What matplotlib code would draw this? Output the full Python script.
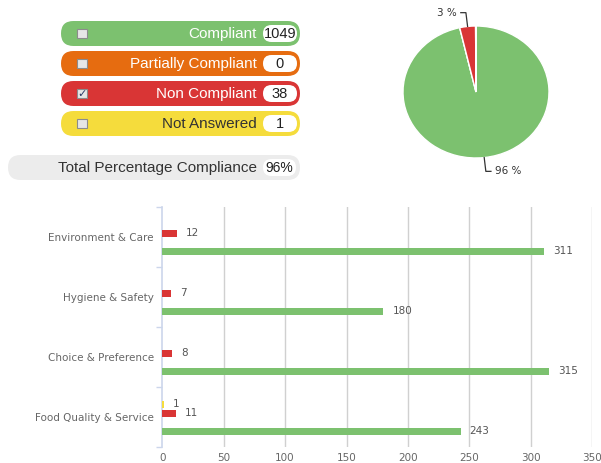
import numpy as np
import matplotlib
matplotlib.use("Agg")
import matplotlib.pyplot as plt
from matplotlib.patches import FancyBboxPatch, Rectangle

# data
CATEGORIES = ["Environment & Care", "Hygiene & Safety", "Choice & Preference", "Food Quality & Service"]
COMPLIANT = [311, 180, 315, 243]
PARTIAL = [0, 0, 0, 0]
NON_COMPLIANT = [12, 7, 8, 11]
NOT_ANSWERED = [0, 0, 0, 1]

LEGEND_LABELS = ["Compliant", "Partially Compliant", "Non Compliant", "Not Answered"]
LEGEND_COUNTS = [1049, 0, 38, 1]
LEGEND_CHECKED = [False, False, True, False]
TOTAL_LABEL = "Total Percentage Compliance"
TOTAL_PCT = 96
X_TICKS = [0, 50, 100, 150, 200, 250, 300, 350]

# colours
C_GREEN = "#7cc16f"
C_ORANGE = "#e66c10"
C_RED = "#d93535"
C_YELLOW = "#f5dc3c"
PILL_COLORS = [C_GREEN, C_ORANGE, C_RED, C_YELLOW]
PILL_TEXT = ["#ffffff", "#ffffff", "#ffffff", "#333333"]
BAR_COLORS = [C_YELLOW, C_RED, C_ORANGE, C_GREEN]

W, H = 601, 463
fig = plt.figure(figsize=(W / 100, H / 100), dpi=100)

# overlay in pixel coordinates for the legend pills
ax0 = fig.add_axes([0, 0, 1, 1])
ax0.set_xlim(0, W)
ax0.set_ylim(H, 0)
ax0.axis("off")

def pill(ax, x0, x1, yc, h, color, z=1):
    r = h / 2.0
    p = FancyBboxPatch((x0 + r, yc - h / 2), (x1 - x0) - 2 * r, h,
                       boxstyle="round,pad=0,rounding_size=%f" % r,
                       mutation_aspect=1, fc=color, ec="none", zorder=z)
    # pad the rounded ends
    p.set_boxstyle("round", pad=r, rounding_size=r)
    p.set_bounds(x0 + r, yc - h / 2 + r, (x1 - x0) - 2 * r, h - 2 * r)
    ax.add_patch(p)

font_pill = ["Liberation Sans", "DejaVu Sans"]
for i, (lab, cnt) in enumerate(zip(LEGEND_LABELS, LEGEND_COUNTS)):
    yc = 33.5 + 30 * i
    pill(ax0, 61, 300, yc, 25, PILL_COLORS[i])
    pill(ax0, 263, 297, yc, 17, "#ffffff", z=2)
    ax0.add_patch(Rectangle((77, yc - 4.5), 10, 9, fc="#e6e6e6", ec="#8c8c8c", lw=0.8, zorder=3))
    if LEGEND_CHECKED[i]:
        ax0.text(82, yc + 0.5, "\u2713", ha="center", va="center", fontsize=8,
                 color="#2b3a67", family="DejaVu Sans", zorder=4)
    ax0.text(257, yc + 0.5, lab, ha="right", va="center", fontsize=11,
             color=PILL_TEXT[i], family=font_pill, zorder=3)
    ax0.text(280, yc + 0.5, str(cnt), ha="center", va="center", fontsize=10.5,
             color="#222222", family=font_pill, zorder=3)

yc = 167.5
pill(ax0, 8, 300, yc, 25, "#ececec")
pill(ax0, 263, 296, yc, 17, "#ffffff", z=2)
ax0.text(257, yc + 0.5, TOTAL_LABEL, ha="right", va="center", fontsize=11,
         color="#333333", family=font_pill, zorder=3)
ax0.text(279.5, yc + 0.5, "%d%%" % TOTAL_PCT, ha="center", va="center", fontsize=10,
         color="#222222", family=font_pill, zorder=3)

# pie chart
pcx, pcy, rx, ry = 476, 92, 73, 66
axp = fig.add_axes([(pcx - rx) / W, 1 - (pcy + ry) / H, 2 * rx / W, 2 * ry / H])
wedges, _ = axp.pie(LEGEND_COUNTS, colors=PILL_COLORS, startangle=90, counterclock=False,
                    wedgeprops=dict(edgecolor="white", linewidth=1))
axp.set_aspect("auto")
axp.set_xlim(-1, 1)
axp.set_ylim(-1, 1)
axp.axis("off")
total = float(sum(LEGEND_COUNTS))
for w, v in zip(wedges, LEGEND_COUNTS):
    pct = v / total * 100
    if pct < 1:
        continue
    ang = np.deg2rad((w.theta1 + w.theta2) / 2.0)
    c, s = np.cos(ang), np.sin(ang)
    side = 1 if c >= 0 else -1
    x1, y1 = c * 1.0, s * 1.0
    x2, y2 = c * 1.2, s * 1.21
    x3 = x2 + side * 0.07
    axp.plot([x1, x2, x3], [y1, y2, y2], color="#333333", lw=0.9, clip_on=False)
    axp.text(x3 + side * 0.06, y2, "%d %%" % round(pct), ha="left" if side > 0 else "right",
             va="center", fontsize=7.5, color="#333333", family="DejaVu Sans")

# bar chart
axb = fig.add_axes([162.3 / W, 1 - 447 / H, 429.8 / W, 240 / H])
ypos = np.arange(len(CATEGORIES))
series = [NOT_ANSWERED, NON_COMPLIANT, PARTIAL, COMPLIANT]
offsets = [-0.21, -0.06, 0.09, 0.24]
bh = 0.117
for vals, off, col in zip(series, offsets, BAR_COLORS):
    bars = axb.barh(ypos + off, vals, height=bh, color=col, zorder=3)
    for b, v in zip(bars, vals):
        if v > 0:
            axb.annotate(str(v), (v, b.get_y() + bh / 2), xytext=(6.5, 0),
                         textcoords="offset points", ha="left", va="center",
                         fontsize=7.5, color="#555555", family="DejaVu Sans")

axb.set_xlim(0, 350)
axb.set_ylim(len(CATEGORIES) - 0.5, -0.5)
axb.set_xticks(X_TICKS)
axb.set_xticklabels([str(t) for t in X_TICKS])
axb.set_yticks(ypos)
axb.set_yticklabels(CATEGORIES)
axb.set_yticks(np.arange(len(CATEGORIES) + 1) - 0.5, minor=True)
axb.tick_params(axis="y", which="major", length=0, pad=6, labelsize=7.5, labelcolor="#666666")
axb.tick_params(axis="y", which="minor", length=4.5, width=1, color="#ccd6eb")
axb.tick_params(axis="x", length=0, pad=4, labelsize=7.5, labelcolor="#666666")
for t in axb.get_xticklabels() + axb.get_yticklabels():
    t.set_family("DejaVu Sans")
axb.grid(axis="x", color="#d0d0d0", lw=1, zorder=0)
axb.xaxis.get_gridlines()[0].set_visible(False)
for k in ["top", "right", "bottom"]:
    axb.spines[k].set_visible(False)
axb.spines["left"].set_color("#ccd6eb")
axb.spines["left"].set_linewidth(1.2)
axb.set_facecolor("none")

fig.savefig("out.png", dpi=100)
